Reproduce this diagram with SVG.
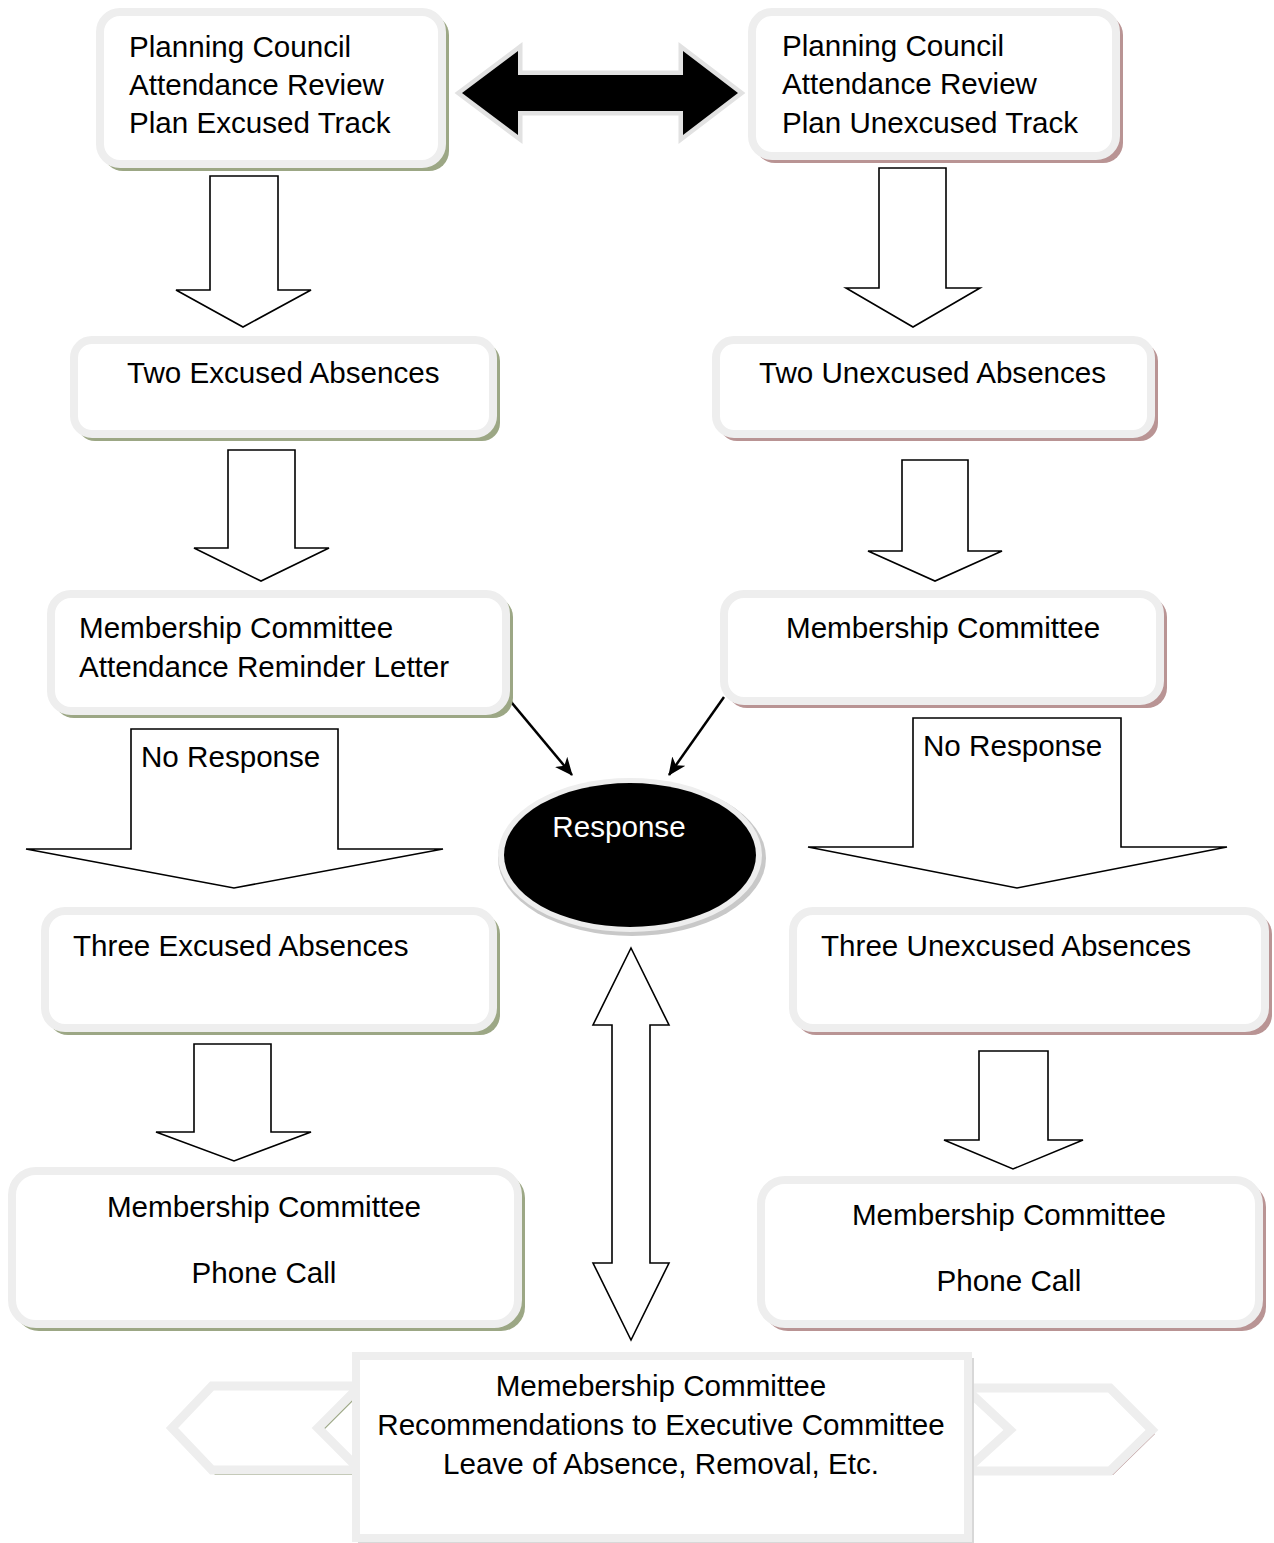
<svg xmlns="http://www.w3.org/2000/svg" width="1274" height="1543" viewBox="0 0 1274 1543">
<defs>
<style>
text{font-family:"Liberation Sans",Arial,sans-serif;font-size:29.6px;fill:#000}
.c{text-anchor:middle}
.box{fill:#fff;stroke:#eeeeee;stroke-width:8}
.sho{fill:#9ca785}
.shr{fill:#b99494}
.blk{fill:#fff;stroke:#000;stroke-width:1.6;stroke-linejoin:miter}
.chev{fill:#fff;stroke:#eeeeee;stroke-width:9;stroke-linejoin:miter}
.thin{stroke:#000;stroke-width:2.5;fill:none}
</style>
<marker id="ah" markerWidth="18" markerHeight="16" refX="17" refY="8" orient="auto" markerUnits="userSpaceOnUse" viewBox="0 0 18 16">
<path d="M0,0 L18,8 L0,16 L5,8 z" fill="#000"/>
</marker>
</defs>
<rect width="1274" height="1543" fill="#fff"/>

<g id="connectors">
<polygon points="462,93 518,51 518,75 683,75 683,51 738,93 683,135 683,111 518,111 518,135" fill="#000" stroke="#e2e2e2" stroke-width="9" stroke-linejoin="miter"/>
<polygon points="462,93 518,51 518,75 683,75 683,51 738,93 683,135 683,111 518,111 518,135" fill="#000"/>
<polygon class="blk" points="210,176 278,176 278,290 311,290 243,327 176,290 210,290"/>
<polygon class="blk" points="879,168 946,168 946,288 980,288 913,327 846,288 879,288"/>
<polygon class="blk" points="228,450 295,450 295,548 329,548 261,581 194,548 228,548"/>
<polygon class="blk" points="902,460 968,460 968,551 1002,551 935,581 868,551 902,551"/>
<polygon class="blk" points="131,729 338,729 338,849 443,849 234,888 26,849 131,849"/>
<polygon class="blk" points="913,718 1121,718 1121,847 1227,847 1017,888 808,847 913,847"/>
<polygon class="blk" points="194,1044 271,1044 271,1132 311,1132 234,1161 156,1132 194,1132"/>
<polygon class="blk" points="979,1051 1048,1051 1048,1140 1083,1140 1013,1169 944,1140 979,1140"/>
<polygon class="blk" points="631,948 669,1025 650,1025 650,1263 669,1263 631,1340 593,1263 612,1263 612,1025 593,1025"/>
<line class="thin" x1="507" y1="697" x2="572" y2="775" marker-end="url(#ah)"/>
<line class="thin" x1="724" y1="697" x2="669" y2="775" marker-end="url(#ah)"/>
<text x="141" y="767">No Response</text>
<text x="923" y="756">No Response</text>
</g>

<g id="chevron-left">
<polygon points="175,1431 215,1391 363,1391 323,1431 363,1475 215,1475" class="sho"/>
<polygon class="chev" points="172,1428 212,1386 360,1386 318,1428 360,1470 212,1470"/>
</g>
<g id="chevron-right">
<polygon points="968,1392 1113,1392 1155,1434 1113,1475 968,1475 1013,1434" class="shr"/>
<polygon class="chev" points="965,1388 1110,1388 1152,1430 1110,1471 965,1471 1010,1430"/>
</g>

<g id="n1">
<rect x="103" y="15" width="346" height="156" rx="20" class="sho"/>
<rect x="100" y="12" width="342" height="152" rx="20" class="box"/>
<text x="129" y="57">Planning Council</text>
<text x="129" y="95">Attendance Review</text>
<text x="129" y="133">Plan Excused Track</text>
</g>
<g id="n2">
<rect x="755" y="15" width="368" height="148" rx="20" class="shr"/>
<rect x="752" y="12" width="364" height="144" rx="20" class="box"/>
<text x="782" y="56">Planning Council</text>
<text x="782" y="94">Attendance Review</text>
<text x="782" y="133">Plan Unexcused Track</text>
</g>
<g id="n3">
<rect x="77" y="343" width="423" height="98" rx="18" class="sho"/>
<rect x="74" y="340" width="419" height="94" rx="18" class="box"/>
<text x="127" y="383">Two Excused Absences</text>
</g>
<g id="n4">
<rect x="719" y="343" width="439" height="98" rx="18" class="shr"/>
<rect x="716" y="340" width="435" height="94" rx="18" class="box"/>
<text x="759" y="383">Two Unexcused Absences</text>
</g>
<g id="n5">
<rect x="54" y="597" width="459" height="121" rx="20" class="sho"/>
<rect x="51" y="594" width="455" height="117" rx="20" class="box"/>
<text x="79" y="638">Membership Committee</text>
<text x="79" y="677">Attendance Reminder Letter</text>
</g>
<g id="n6">
<rect x="727" y="597" width="440" height="111" rx="20" class="shr"/>
<rect x="724" y="594" width="436" height="107" rx="20" class="box"/>
<text x="786" y="638">Membership Committee</text>
</g>
<g id="n7">
<rect x="48" y="914" width="452" height="121" rx="20" class="sho"/>
<rect x="45" y="911" width="448" height="117" rx="20" class="box"/>
<text x="73" y="956">Three Excused Absences</text>
</g>
<g id="n8">
<rect x="796" y="914" width="476" height="121" rx="20" class="shr"/>
<rect x="793" y="911" width="472" height="117" rx="20" class="box"/>
<text x="821" y="956">Three Unexcused Absences</text>
</g>
<g id="n9">
<rect x="15" y="1174" width="510" height="157" rx="24" class="sho"/>
<rect x="12" y="1171" width="506" height="153" rx="24" class="box"/>
<text class="c" x="264" y="1217">Membership Committee</text>
<text class="c" x="264" y="1283">Phone Call</text>
</g>
<g id="n10">
<rect x="764" y="1183" width="502" height="148" rx="24" class="shr"/>
<rect x="761" y="1180" width="498" height="144" rx="24" class="box"/>
<text class="c" x="1009" y="1225">Membership Committee</text>
<text class="c" x="1009" y="1291">Phone Call</text>
</g>
<g id="n-response">
<ellipse cx="632" cy="858" rx="134" ry="78" fill="#c8c8c8"/>
<ellipse cx="630" cy="855" rx="132" ry="77" fill="#eeeeee"/>
<ellipse cx="630" cy="855" rx="126" ry="72" fill="#000"/>
<text class="c" x="619" y="837" style="fill:#fff">Response</text>
</g>
<g id="n11">
<rect x="358" y="1358" width="616" height="185" fill="#d8d8d8"/>
<rect x="356" y="1356" width="612" height="182" fill="#fff" stroke="#eeeeee" stroke-width="8"/>
<text class="c" x="661" y="1396">Memebership Committee</text>
<text class="c" x="661" y="1435">Recommendations to Executive Committee</text>
<text class="c" x="661" y="1474">Leave of Absence, Removal, Etc.</text>
</g>
</svg>
